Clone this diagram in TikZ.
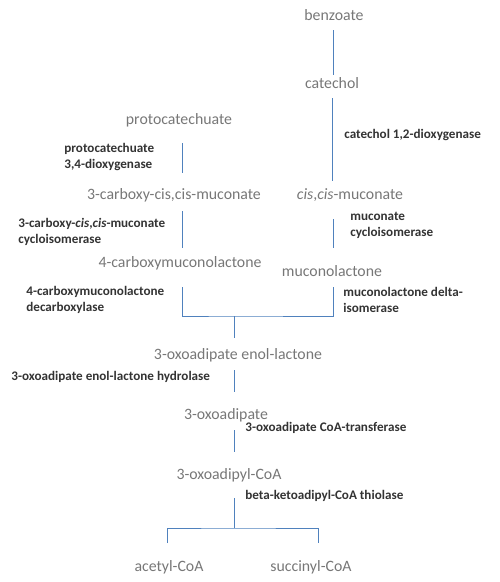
\documentclass[tikz,border=0pt]{standalone}
\usepackage{fontspec}
\setmainfont{Carlito}
\usepackage{tikz}
\usepackage{xcolor}
\definecolor{cmpd}{HTML}{777777}
\definecolor{enz}{HTML}{333333}
\definecolor{link}{HTML}{4F81BD}
\tikzset{
  compound/.style={text=cmpd, inner sep=1pt, font=\fontsize{13.5}{15}\selectfont},
  enzyme/.style={text=enz, inner sep=1pt, align=left, anchor=west,
                 font=\bfseries\fontsize{11.2}{13.5}\selectfont},
  link/.style={draw=link, line width=0.8pt}
}
\begin{document}
\begin{tikzpicture}[x=0.03cm,y=-0.03cm]
  \useasboundingbox (0,0) rectangle (500,582);
  % compounds
  \node[compound] (benz) at (334,15) {benzoate};
  \node[compound] (cat) at (332,83) {catechol};
  \node[compound] (pcat) at (179,120) {protocatechuate};
  \node[compound] (cmuc) at (174,195) {3-carboxy-cis,cis-muconate};
  \node[compound] (ccmuc) at (350,195) {\textit{cis},\textit{cis}-muconate};
  \node[compound] (cml) at (180,263) {4-carboxymuconolactone};
  \node[compound] (ml) at (332,271) {muconolactone};
  \node[compound] (enol) at (238,355) {3-oxoadipate enol-lactone};
  \node[compound] (oxo) at (226,415) {3-oxoadipate};
  \node[compound] (oxocoa) at (229,475) {3-oxoadipyl-CoA};
  \node[compound] (acoa) at (169,567) {acetyl-CoA};
  \node[compound] (scoa) at (311,567) {succinyl-CoA};
  % enzymes
  \node[enzyme] (e1) at (343,135) {catechol 1,2-dioxygenase};
  \node[enzyme] (e2) at (63,157) {protocatechuate\\3,4-dioxygenase};
  \node[enzyme] (e3) at (17,232) {3-carboxy-\textit{cis},\textit{cis}-muconate\\cycloisomerase};
  \node[enzyme] (e4) at (349,225) {muconate\\cycloisomerase};
  \node[enzyme] (e5) at (25,300) {4-carboxymuconolactone\\decarboxylase};
  \node[enzyme] (e6) at (342,300) {muconolactone delta-\\isomerase};
  \node[enzyme] (e7) at (10,377) {3-oxoadipate enol-lactone hydrolase};
  \node[enzyme] (e8) at (244,428) {3-oxoadipate CoA-transferase};
  \node[enzyme] (e9) at (244,496) {beta-ketoadipyl-CoA thiolase};
  % line ends
  \coordinate (b1) at (333,30);  \coordinate (b2) at (333,75);
  \coordinate (c1) at (332,98);  \coordinate (c2) at (332,181);
  \coordinate (p1) at (182,143); \coordinate (p2) at (182,173);
  \coordinate (m1) at (182,211); \coordinate (m2) at (182,248);
  \coordinate (n1) at (333,219); \coordinate (n2) at (333,248);
  \coordinate (l1) at (182,287); \coordinate (l2) at (333,287);
  \coordinate (j1) at (234,316); \coordinate (j2) at (234,338);
  \coordinate (h1) at (234,370); \coordinate (h2) at (234,392);
  \coordinate (t1) at (234,430); \coordinate (t2) at (234,452);
  \coordinate (k1) at (234,498); \coordinate (k2) at (234,528);
  \coordinate (a1) at (167,543); \coordinate (s1) at (318,543);
  % connectors
  \draw[link] (b1) -- (b2);
  \draw[link] (c1) -- (c2);
  \draw[link] (p1) -- (p2);
  \draw[link] (m1) -- (m2);
  \draw[link] (n1) -- (n2);
  \draw[link] (l1) |- (j1) -| (l2);
  \draw[link] (j1) -- (j2);
  \draw[link] (h1) -- (h2);
  \draw[link] (t1) -- (t2);
  \draw[link] (k1) -- (k2);
  \draw[link] (a1) |- (k2) -| (s1);
\end{tikzpicture}
\end{document}
